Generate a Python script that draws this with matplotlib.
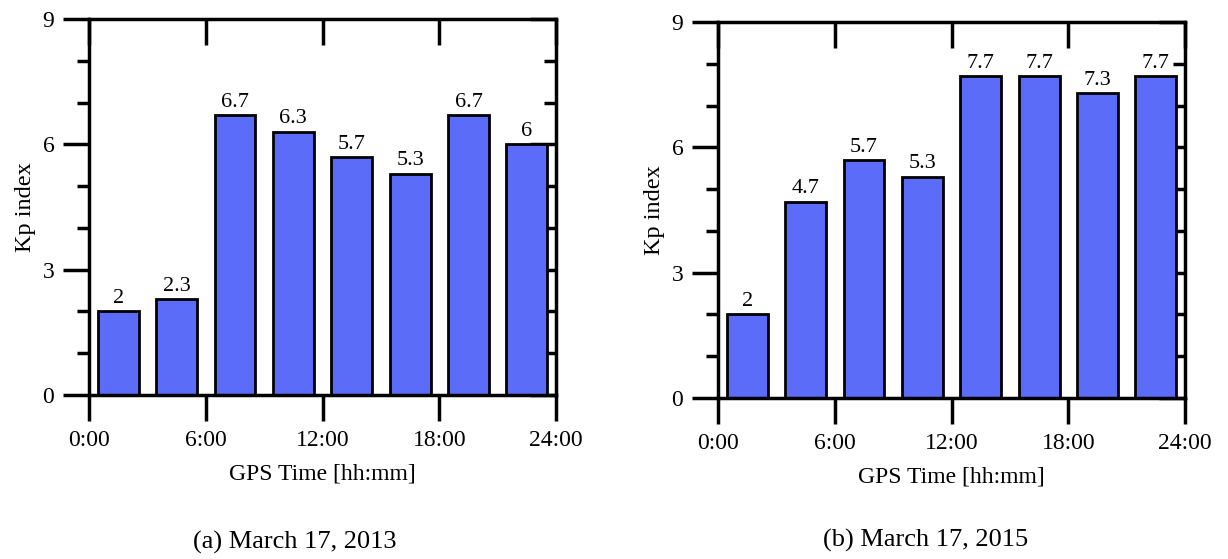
import matplotlib
matplotlib.use('Agg')
import matplotlib.pyplot as plt
import numpy as np
from matplotlib.ticker import MultipleLocator

# data
hours = [1.5, 4.5, 7.5, 10.5, 13.5, 16.5, 19.5, 22.5]
kp_2013 = [2, 2.3, 6.7, 6.3, 5.7, 5.3, 6.7, 6]
kp_2015 = [2, 4.7, 5.7, 5.3, 7.7, 7.7, 7.3, 7.7]
xticks = [0, 6, 12, 18, 24]
xtick_labels = ['0:00', '6:00', '12:00', '18:00', '24:00']
captions = ['(a) March 17, 2013', '(b) March 17, 2015']

plt.rcParams['font.family'] = ['Liberation Serif', 'DejaVu Serif']


def panel(ax, values):
    ax.bar(hours, values, width=2.1, color='#5a6cf8', edgecolor='black', linewidth=2)
    for x, v in zip(hours, values):
        ax.text(x, v + 0.08, f'{v:g}', ha='center', va='bottom', fontsize=16)
    ax.set_xlim(0, 24)
    ax.set_ylim(0, 9)
    ax.set_xticks(xticks)
    ax.set_xticklabels(xtick_labels, fontsize=17)
    ax.yaxis.set_major_locator(MultipleLocator(3))
    ax.yaxis.set_minor_locator(MultipleLocator(1))
    ax.tick_params(axis='y', labelsize=17)
    ax.tick_params(which='major', direction='out', length=19, width=2.5, pad=6)
    ax.tick_params(which='minor', direction='out', length=9, width=2.5)
    for s in ax.spines.values():
        s.set_linewidth(2.5)
    # inward ticks on top and right
    top = ax.secondary_xaxis('top')
    top.set_xticks(xticks)
    top.set_xticklabels([])
    top.tick_params(direction='in', length=19, width=2.5)
    right = ax.secondary_yaxis('right')
    right.yaxis.set_major_locator(MultipleLocator(3))
    right.yaxis.set_minor_locator(MultipleLocator(1))
    right.set_yticklabels([])
    right.tick_params(which='major', direction='in', length=19, width=2.5)
    right.tick_params(which='minor', direction='in', length=9, width=2.5)
    ax.set_xlabel('GPS Time [hh:mm]', fontsize=17, labelpad=9)
    ax.set_ylabel('Kp index', fontsize=17.5, labelpad=5)


def main() -> None:
    fig = plt.figure(figsize=(12.28, 5.59), dpi=100)
    ax1 = fig.add_axes([0.0725, 0.2934, 0.3803, 0.6726])
    ax2 = fig.add_axes([0.5847, 0.288, 0.3803, 0.6726])
    panel(ax1, kp_2013)
    panel(ax2, kp_2015)
    fig.text(0.240, 0.030, captions[0], ha='center', va='center', fontsize=19)
    fig.text(0.754, 0.033, captions[1], ha='center', va='center', fontsize=19)
    fig.savefig('out.png', dpi=100)


if __name__ == "__main__":
    main()
